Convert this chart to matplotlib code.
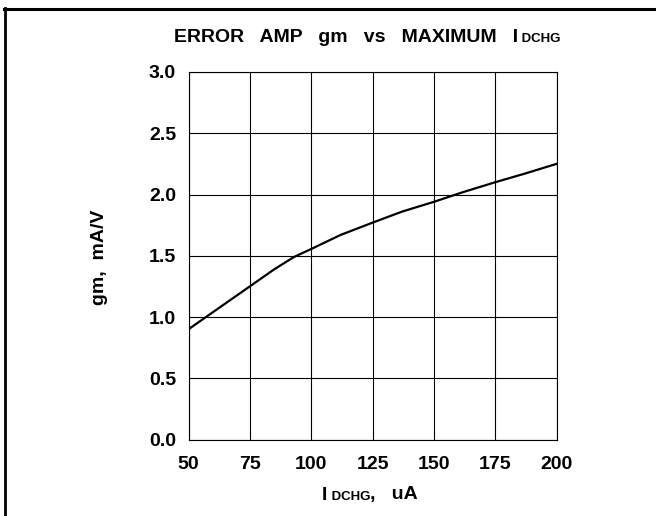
import matplotlib
matplotlib.use("Agg")
import matplotlib.pyplot as plt
from matplotlib.lines import Line2D
from matplotlib.offsetbox import TextArea, HPacker, AnnotationBbox

plt.rcParams['font.family'] = ['Liberation Sans', 'DejaVu Sans']
plt.rcParams['font.weight'] = 'bold'

# values
i_dchg = [50, 60, 75, 85, 93, 100, 112, 125, 137, 150, 162, 175, 187, 200]
gm = [0.90, 1.04, 1.25, 1.39, 1.49, 1.555, 1.67, 1.77, 1.86, 1.94, 2.02, 2.10, 2.17, 2.25]

x_ticks = [50, 75, 100, 125, 150, 175, 200]
y_ticks = [0.0, 0.5, 1.0, 1.5, 2.0, 2.5, 3.0]

BIG = 14
SMALL = 9.5

W, H = 656, 516
fig = plt.figure(figsize=(W/100, H/100), dpi=100)
ax = fig.add_axes([188.5/W, 1-439.5/H, 368/W, 367.5/H])

ax.plot(i_dchg, gm, color='black', lw=1.6)
ax.set_xlim(50, 200)
ax.set_ylim(0, 3)
ax.set_xticks(x_ticks)
ax.set_yticks(y_ticks)
ax.set_yticklabels(["%.1f" % v for v in y_ticks])
ax.grid(True, color='black', lw=0.8)
ax.tick_params(length=0, labelsize=BIG)
ax.xaxis.set_tick_params(pad=12)
ax.yaxis.set_tick_params(pad=9)
for lab in ax.get_xticklabels() + ax.get_yticklabels():
    lab.set_fontweight('bold')
for s in ax.spines.values():
    s.set_linewidth(0.8)

fig.text(100/W, 1-257/H, "gm,  mA/V", rotation=90, ha='center', va='center',
         fontsize=BIG, fontweight='bold')


def mixed_text(parts, xy):
    # parts: list of (string, fontsize)
    boxes = [TextArea(t, textprops=dict(fontsize=fs, fontweight='bold', color='black'))
             for t, fs in parts]
    pack = HPacker(children=boxes, align="baseline", pad=0, sep=0)
    ab = AnnotationBbox(pack, xy, xycoords='figure pixels', frameon=False,
                        box_alignment=(0.5, 0.5))
    fig.add_artist(ab)


mixed_text([("ERROR   AMP   gm   vs   MAXIMUM   I", BIG), (" DCHG", SMALL)], (367, H-37))
mixed_text([("I", BIG), (" DCHG", SMALL), (",   uA", BIG)], (370, H-495))

# frame around the figure (top and left edges only)
fig.add_artist(Line2D([4/W, 1], [1-8.5/H, 1-8.5/H], color='black', lw=2.2,
                      transform=fig.transFigure))
fig.add_artist(Line2D([5.3/W, 5.3/W], [0, 1-7.5/H], color='black', lw=2.0,
                      transform=fig.transFigure))

fig.savefig("out.png", dpi=100)
